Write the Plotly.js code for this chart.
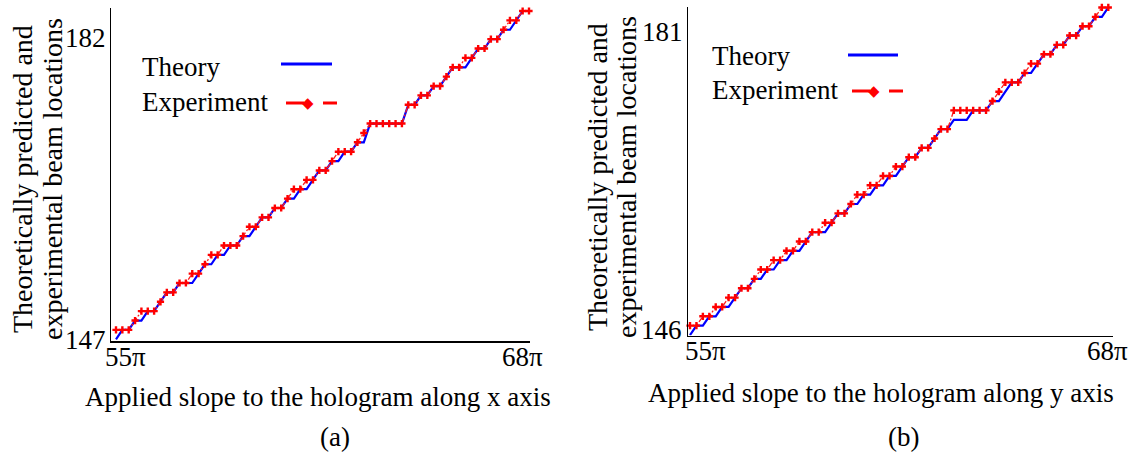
<!DOCTYPE html>
<html>
<head>
<meta charset="utf-8">
<script src="https://cdn.plot.ly/plotly-3.0.1.min.js"></script>
<style>html,body{margin:0;padding:0;background:#fff;}#chart{width:1139px;height:457px;}</style>
</head>
<body>
<div id="chart"></div>
<script>
// Applied slope (units of pi), shared by both panels
const appliedSlope = [55,55.2,55.4,55.6,55.8,56,56.2,56.4,56.6,56.8,57,57.2,57.4,57.6,57.8,58,58.2,58.4,58.6,58.8,59,59.2,59.4,59.6,59.8,60,60.2,60.4,60.6,60.8,61,61.2,61.4,61.6,61.8,62,62.2,62.4,62.6,62.8,63,63.2,63.4,63.6,63.8,64,64.2,64.4,64.6,64.8,65,65.2,65.4,65.6,65.8,66,66.2,66.4,66.6,66.8,67,67.2,67.4,67.6,67.8,68];

// Panel (a): along x axis
const theoryA = [147,148,148,149,149,150,150,151,152,152,
                 153,153,153,154,155,155,156,156,157,157,
                 158,158,159,160,160,161,161,162,162,163,
                 163,164,165,165,166,166,167,167,168,168,
                 170,170,170,170,170,170,172,172,173,173,
                 174,174,175,176,176,176,177,178,178,179,
                 179,180,180,181,182,182];
const experimentA = [148,148,148,149,150,150,150,151,152,152,
                     153,153,154,154,155,156,156,157,157,157,
                     158,159,159,160,160,161,161,162,163,163,
                     164,164,165,165,166,167,167,167,168,169,
                     170,170,170,170,170,170,172,172,173,173,
                     174,174,175,176,176,177,177,178,178,179,
                     179,180,181,181,182,182];

// Panel (b): along y axis
const theoryB = [146,147,147,148,148,149,149,150,151,151,
                 152,152,153,153,154,154,155,155,156,157,
                 157,157,158,159,159,160,160,161,161,162,
                 162,163,163,164,165,165,166,166,167,168,
                 168,169,169,169,170,170,170,171,171,172,
                 173,173,174,174,175,176,176,177,177,178,
                 178,179,179,180,180,181];
const experimentB = [147,147,148,148,149,149,150,150,151,151,
                     152,153,153,154,154,155,155,156,156,157,
                     157,158,158,159,159,160,161,161,162,162,
                     163,163,164,164,165,165,166,166,167,168,
                     168,170,170,170,170,170,170,171,172,173,
                     173,173,174,175,175,176,176,177,177,178,
                     178,179,179,180,181,181];

const xTickLabels = ['55π', '68π'];
const yTickLabelsA = ['147', '182'];
const yTickLabelsB = ['146', '181'];
const legendNames = ['Theory', 'Experiment'];
const xTitles = ['Applied slope to the hologram along x axis', 'Applied slope to the hologram along y axis'];
const yTitleLines = ['Theoretically predicted and', 'experimental beam locations'];
const panelLabels = ['(a)', '(b)'];

const W = 1139, H = 457;
const px = v => v / W;
const py = v => 1 - v / H;
const FONT = '"Times New Roman", "Liberation Serif", Times, "DejaVu Serif", serif';

const theoryStyle = {color: 'rgb(0,0,255)', width: 2.2};
const expLine = {color: 'rgb(255,30,30)', width: 1.3, dash: '5px,2px,2px,2px'};
const expMarker = {symbol: 'cross', size: 6, color: 'rgb(255,0,0)'};

const traces = [
  {x: appliedSlope, y: theoryA, xaxis: 'x', yaxis: 'y', mode: 'lines', line: theoryStyle, name: legendNames[0], cliponaxis: false},
  {x: appliedSlope, y: experimentA, xaxis: 'x', yaxis: 'y', mode: 'lines+markers', line: expLine, marker: expMarker, name: legendNames[1], cliponaxis: false},
  {x: appliedSlope, y: theoryB, xaxis: 'x2', yaxis: 'y2', mode: 'lines', line: theoryStyle, name: legendNames[0], cliponaxis: false},
  {x: appliedSlope, y: experimentB, xaxis: 'x2', yaxis: 'y2', mode: 'lines+markers', line: expLine, marker: expMarker, name: legendNames[1], cliponaxis: false}
];

const axisCommon = {showline: true, linecolor: '#000', linewidth: 1.5, showgrid: false, zeroline: false,
                    showticklabels: false, ticks: '', fixedrange: true};

const font27 = {family: FONT, size: 27, color: '#000'};
const font28 = {family: FONT, size: 28, color: '#000'};

const annotations = [];
function ann(o) { annotations.push(Object.assign({showarrow: false, font: font27}, o)); }

// ---- Panel (a) ----
ann({xref: 'paper', yref: 'y', x: px(108), y: 182, yshift: -27, xanchor: 'right', yanchor: 'middle', text: yTickLabelsA[1]});
ann({xref: 'paper', yref: 'y', x: px(108), y: 147, yshift: -1, xanchor: 'right', yanchor: 'middle', text: yTickLabelsA[0]});
ann({xref: 'x', yref: 'paper', x: 55, xshift: 9, y: py(357), xanchor: 'center', yanchor: 'middle', text: xTickLabels[0]});
ann({xref: 'x', yref: 'paper', x: 68, xshift: -7, y: py(357), xanchor: 'center', yanchor: 'middle', text: xTickLabels[1]});
ann({xref: 'paper', yref: 'paper', x: px(318), y: py(397), xanchor: 'center', yanchor: 'middle', text: xTitles[0]});
ann({xref: 'paper', yref: 'paper', x: px(335), y: py(437), xanchor: 'center', yanchor: 'middle', text: panelLabels[0]});
ann({xref: 'paper', yref: 'paper', x: px(22), y: py(179), textangle: -90, xanchor: 'center', yanchor: 'middle', text: yTitleLines[0], font: font28});
ann({xref: 'paper', yref: 'paper', x: px(52), y: py(179), textangle: -90, xanchor: 'center', yanchor: 'middle', text: yTitleLines[1], font: font28});
ann({xref: 'paper', yref: 'paper', x: px(140), y: py(67), xanchor: 'left', yanchor: 'middle', text: legendNames[0]});
ann({xref: 'paper', yref: 'paper', x: px(140), y: py(102), xanchor: 'left', yanchor: 'middle', text: legendNames[1]});
ann({xref: 'paper', yref: 'paper', x: px(308), y: py(103), xanchor: 'center', yanchor: 'middle', text: '◆', font: {family: 'DejaVu Sans', size: 15, color: 'rgb(255,0,0)'}});

// ---- Panel (b) ----
ann({xref: 'paper', yref: 'y2', x: px(685), y: 181, yshift: -25, xanchor: 'right', yanchor: 'middle', text: yTickLabelsB[1]});
ann({xref: 'paper', yref: 'y2', x: px(684), y: 146, yshift: 5, xanchor: 'right', yanchor: 'middle', text: yTickLabelsB[0]});
ann({xref: 'x2', yref: 'paper', x: 55, xshift: 15, y: py(351), xanchor: 'center', yanchor: 'middle', text: xTickLabels[0]});
ann({xref: 'x2', yref: 'paper', x: 68, xshift: -1, y: py(351), xanchor: 'center', yanchor: 'middle', text: xTickLabels[1]});
ann({xref: 'paper', yref: 'paper', x: px(881), y: py(393), xanchor: 'center', yanchor: 'middle', text: xTitles[1]});
ann({xref: 'paper', yref: 'paper', x: px(903), y: py(437), xanchor: 'center', yanchor: 'middle', text: panelLabels[1]});
ann({xref: 'paper', yref: 'paper', x: px(598), y: py(177), textangle: -90, xanchor: 'center', yanchor: 'middle', text: yTitleLines[0], font: font28});
ann({xref: 'paper', yref: 'paper', x: px(627), y: py(177), textangle: -90, xanchor: 'center', yanchor: 'middle', text: yTitleLines[1], font: font28});
ann({xref: 'paper', yref: 'paper', x: px(710), y: py(56), xanchor: 'left', yanchor: 'middle', text: legendNames[0]});
ann({xref: 'paper', yref: 'paper', x: px(710), y: py(90), xanchor: 'left', yanchor: 'middle', text: legendNames[1]});
ann({xref: 'paper', yref: 'paper', x: px(874), y: py(91), xanchor: 'center', yanchor: 'middle', text: '◆', font: {family: 'DejaVu Sans', size: 15, color: 'rgb(255,0,0)'}});

function seg(x0, x1, y, color, w) {
  return {type: 'line', xref: 'paper', yref: 'paper', x0: px(x0), x1: px(x1), y0: py(y), y1: py(y), line: {color: color, width: w}};
}
const shapes = [
  seg(281, 332, 64, 'rgb(0,0,255)', 3),
  seg(286, 304, 103, 'rgb(255,0,0)', 3),
  seg(323, 337, 103, 'rgb(255,0,0)', 3),
  seg(848, 898, 55, 'rgb(0,0,255)', 3),
  seg(852, 870, 91, 'rgb(255,0,0)', 3),
  seg(889, 903, 91, 'rgb(255,0,0)', 3)
];

const layout = {
  width: W, height: H,
  margin: {l: 0, r: 0, t: 0, b: 0, pad: 0},
  paper_bgcolor: '#fff', plot_bgcolor: '#fff',
  showlegend: false,
  font: font27,
  xaxis: Object.assign({}, axisCommon, {domain: [px(111), px(530)], range: [54.8426, 68.0315], anchor: 'y'}),
  yaxis: Object.assign({}, axisCommon, {domain: [py(341), py(8)], range: [146.819, 182.32], anchor: 'x'}),
  xaxis2: Object.assign({}, axisCommon, {domain: [px(688), px(1113)], range: [54.9378, 68.146], anchor: 'y2'}),
  yaxis2: Object.assign({}, axisCommon, {domain: [py(335.5), py(7)], range: [145.95, 181.05], anchor: 'x2'}),
  annotations: annotations,
  shapes: shapes
};

Plotly.newPlot('chart', traces, layout, {staticPlot: true, displayModeBar: false});
</script>
</body>
</html>
